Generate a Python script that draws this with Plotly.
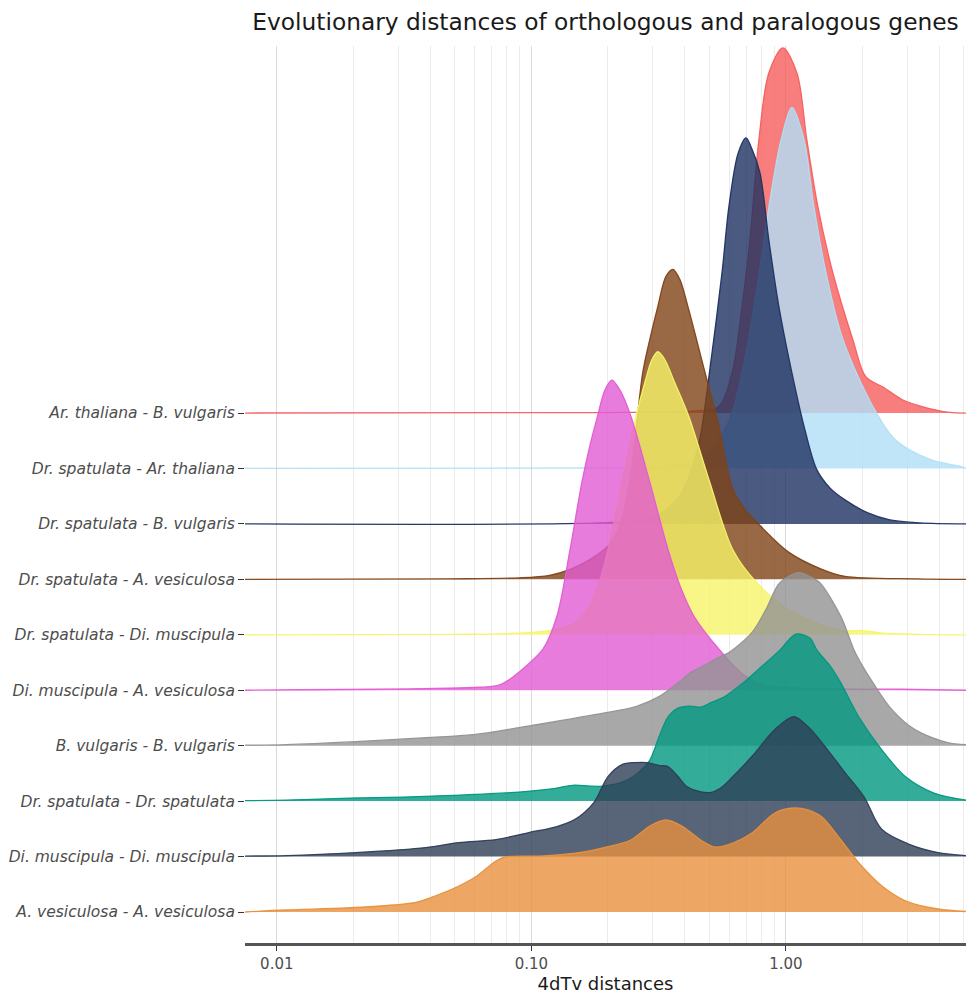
import math
import plotly.graph_objects as go

# Row labels, bottom to top
categories = [
    "A. vesiculosa - A. vesiculosa",
    "Di. muscipula - Di. muscipula",
    "Dr. spatulata - Dr. spatulata",
    "B. vulgaris - B. vulgaris",
    "Di. muscipula - A. vesiculosa",
    "Dr. spatulata - Di. muscipula",
    "Dr. spatulata - A. vesiculosa",
    "Dr. spatulata - B. vulgaris",
    "Dr. spatulata - Ar. thaliana",
    "Ar. thaliana - B. vulgaris",
]

# 4dTv distance (x) and density (arbitrary units) for each pair
ath_bvu_x = [0.0075, 0.186, 0.420, 0.541, 0.614, 0.672, 0.722, 0.783, 0.857, 0.973, 1.105, 1.209, 1.336, 1.530, 1.834, 2.063, 2.406, 2.883, 3.485, 4.292, 5.10]
ath_bvu_d = [0, 0.05, 0.2, 0.6, 4.0, 10.6, 17.3, 27.3, 34.0, 36.5, 34.0, 27.3, 20.6, 14.0, 7.3, 3.6, 2.6, 1.3, 0.6, 0.1, 0]

dsp_ath_x = [0.0075, 0.186, 0.320, 0.420, 0.503, 0.603, 0.690, 0.769, 0.857, 0.956, 1.056, 1.177, 1.288, 1.436, 1.675, 2.197, 2.682, 3.681, 4.827, 5.10]
dsp_ath_d = [0, 0.05, 0.15, 0.6, 1.8, 5.0, 11.0, 18.0, 26.1, 32.8, 36.1, 32.9, 26.2, 19.6, 12.9, 6.2, 2.9, 0.9, 0.2, 0]

dsp_bvu_x = [0.0075, 0.186, 0.267, 0.320, 0.383, 0.420, 0.459, 0.503, 0.561, 0.597, 0.648, 0.697, 0.735, 0.791, 0.857, 0.939, 1.056, 1.188, 1.324, 1.489, 1.706, 2.100, 2.563, 3.362, 5.10]
dsp_bvu_d = [0, 0.1, 0.4, 1.0, 2.8, 5.0, 8.5, 15.5, 25.1, 31.7, 37.0, 38.6, 37.5, 35.1, 28.4, 21.7, 15.1, 9.4, 5.4, 3.6, 2.4, 1.1, 0.4, 0.1, 0]

dsp_ave_x = [0.0075, 0.0478, 0.0901, 0.118, 0.142, 0.170, 0.203, 0.223, 0.244, 0.274, 0.292, 0.314, 0.338, 0.360, 0.383, 0.412, 0.481, 0.541, 0.619, 0.690, 0.769, 1.028, 1.385, 1.706, 3.213, 5.10]
dsp_ave_d = [0, 0.05, 0.15, 0.4, 1.0, 2.0, 3.5, 5.5, 10.0, 20.7, 24.0, 27.3, 30.3, 31.0, 30.0, 27.3, 20.7, 15.7, 9.0, 7.0, 5.7, 2.7, 1.0, 0.3, 0.05, 0]

dsp_dmu_x = [0.0075, 0.0478, 0.0752, 0.106, 0.129, 0.148, 0.170, 0.186, 0.200, 0.227, 0.2575, 0.279, 0.2975, 0.314, 0.3346, 0.366, 0.416, 0.503, 0.619, 0.769, 1.028, 1.449, 1.706, 1.954, 2.341, 3.362, 5.10]
dsp_dmu_d = [0, 0.05, 0.1, 0.3, 0.6, 1.2, 3.0, 5.5, 8.5, 15.2, 21.8, 25.2, 27.5, 28.3, 27.5, 25.2, 21.8, 15.2, 8.5, 5.2, 2.5, 0.8, 0.4, 0.45, 0.2, 0.05, 0]

dmu_ave_x = [0.0075, 0.0123, 0.0254, 0.0474, 0.0627, 0.0700, 0.0759, 0.0823, 0.0893, 0.111, 0.126, 0.142, 0.158, 0.170, 0.182, 0.1944, 0.207, 0.223, 0.246, 0.292, 0.344, 0.383, 0.4355, 0.546, 0.678, 0.827, 1.135, 2.805, 5.10]
dmu_ave_d = [0, 0.05, 0.1, 0.2, 0.3, 0.38, 0.6, 1.1, 1.8, 4.1, 7.4, 14.1, 20.8, 24.5, 27.4, 30.0, 31.0, 30.0, 27.4, 20.8, 14.1, 10.5, 7.4, 4.1, 1.6, 0.5, 0.2, 0.1, 0]

bvu_bvu_x = [0.0075, 0.0109, 0.0204, 0.0385, 0.0589, 0.0893, 0.137, 0.207, 0.2575, 0.317, 0.377, 0.428, 0.485, 0.551, 0.597, 0.735, 0.834, 0.947, 1.125, 1.265, 1.360, 1.645, 1.850, 2.007, 2.197, 2.610, 3.213, 4.330, 5.10]
bvu_bvu_d = [0.05, 0.1, 0.4, 0.8, 1.1, 1.8, 2.6, 3.4, 3.9, 4.9, 6.3, 7.4, 8.1, 8.9, 9.3, 11.3, 13.6, 16.3, 17.3, 16.8, 16.3, 12.9, 9.6, 7.9, 6.3, 3.6, 1.6, 0.3, 0.1]

dsp_dsp_x = [0.0075, 0.0109, 0.0194, 0.0313, 0.0524, 0.0893, 0.118, 0.148, 0.170, 0.191, 0.233, 0.267, 0.292, 0.317, 0.344, 0.377, 0.420, 0.463, 0.512, 0.571, 0.678, 0.798, 0.947, 1.095, 1.242, 1.324, 1.503, 1.645, 1.936, 2.384, 2.962, 3.816, 5.10]
dsp_dsp_d = [0.05, 0.1, 0.3, 0.4, 0.6, 0.9, 1.2, 1.6, 1.5, 1.5, 2.0, 3.0, 4.1, 6.4, 8.4, 9.3, 9.5, 9.4, 9.9, 10.4, 11.8, 13.4, 15.1, 16.7, 16.3, 15.1, 13.4, 11.8, 8.4, 5.1, 2.4, 0.8, 0.1]

dmu_dmu_x = [0.0075, 0.0109, 0.0204, 0.0385, 0.0519, 0.0726, 0.0977, 0.126, 0.148, 0.176, 0.200, 0.227, 0.255, 0.284, 0.320, 0.344, 0.377, 0.408, 0.459, 0.503, 0.551, 0.619, 0.735, 0.905, 1.075, 1.220, 1.385, 1.706, 2.025, 2.384, 3.071, 3.957, 5.10]
dmu_dmu_d = [0.05, 0.1, 0.4, 0.9, 1.4, 1.7, 2.4, 3.0, 3.7, 5.4, 8.0, 9.2, 9.4, 9.4, 9.1, 9.0, 8.0, 7.0, 6.5, 6.4, 6.8, 8.0, 10.0, 12.7, 14.0, 13.0, 11.4, 8.4, 6.0, 2.7, 1.2, 0.4, 0.1]

ave_ave_x = [0.0075, 0.0109, 0.0188, 0.0288, 0.0355, 0.0418, 0.0519, 0.0611, 0.0726, 0.0787, 0.111, 0.161, 0.191, 0.246, 0.292, 0.338, 0.390, 0.463, 0.526, 0.619, 0.735, 0.905, 1.075, 1.220, 1.385, 1.645, 1.936, 2.384, 2.962, 3.957, 5.10]
ave_ave_d = [0, 0.2, 0.4, 0.7, 1.0, 1.6, 2.6, 3.6, 5.1, 5.5, 5.6, 6.0, 6.4, 7.2, 8.6, 9.2, 8.6, 7.2, 6.5, 6.9, 7.9, 9.9, 10.4, 10.2, 9.5, 7.2, 4.9, 2.6, 1.1, 0.3, 0.05]

x_tick_vals = [0.01, 0.1, 1.0]
x_tick_text = ["0.01", "0.10", "1.00"]
x_minor_vals = [0.02, 0.03, 0.04, 0.05, 0.06, 0.07, 0.08, 0.09,
                0.2, 0.3, 0.4, 0.5, 0.6, 0.7, 0.8, 0.9, 2, 3, 4, 5]
x_limits = [0.0075, 5.10]

# drawing order: top row first, so lower rows sit in front
series = [
    ("Ar. thaliana - B. vulgaris", ath_bvu_x, ath_bvu_d, (246, 94, 94)),
    ("Dr. spatulata - Ar. thaliana", dsp_ath_x, dsp_ath_d, (176, 223, 246)),
    ("Dr. spatulata - B. vulgaris", dsp_bvu_x, dsp_bvu_d, (29, 49, 96)),
    ("Dr. spatulata - A. vesiculosa", dsp_ave_x, dsp_ave_d, (128, 66, 21)),
    ("Dr. spatulata - Di. muscipula", dsp_dmu_x, dsp_dmu_d, (246, 244, 105)),
    ("Di. muscipula - A. vesiculosa", dmu_ave_x, dmu_ave_d, (226, 91, 211)),
    ("B. vulgaris - B. vulgaris", bvu_bvu_x, bvu_bvu_d, (146, 146, 146)),
    ("Dr. spatulata - Dr. spatulata", dsp_dsp_x, dsp_dsp_d, (0, 152, 128)),
    ("Di. muscipula - Di. muscipula", dmu_dmu_x, dmu_dmu_d, (46, 61, 86)),
    ("A. vesiculosa - A. vesiculosa", ave_ave_x, ave_ave_d, (232, 144, 61)),
]

SCALE = 0.1804   # row heights per density unit
ALPHA = 0.8

fig = go.Figure()
for name, xs, ds, rgb in series:
    base = categories.index(name) + 1
    r, g, b = rgb
    fig.add_trace(go.Scatter(
        x=[x_limits[0], x_limits[1]], y=[base, base], mode="lines",
        line=dict(width=0, color="rgba(0,0,0,0)"), showlegend=False, hoverinfo="skip"))
    fig.add_trace(go.Scatter(
        x=xs, y=[base + d * SCALE for d in ds], mode="lines",
        line=dict(color=f"rgba({r},{g},{b},0.95)", width=1.3, shape="spline", smoothing=0.9),
        fill="tonexty", fillcolor=f"rgba({r},{g},{b},{ALPHA})",
        name=name, showlegend=False))

fig.update_layout(
    width=966, height=1000,
    margin=dict(l=245, r=0, t=46, b=57, pad=0),
    paper_bgcolor="white", plot_bgcolor="white",
    font=dict(family="DejaVu Sans", color="#4d4d4d"),
    title=dict(text="Evolutionary distances of orthologous and paralogous genes",
               x=0.5, xref="paper", xanchor="center",
               y=1 - 22 / 1000, yref="container", yanchor="middle",
               font=dict(family="DejaVu Sans", size=23.3, color="#1a1a1a")),
    xaxis=dict(
        type="log",
        range=[math.log10(x_limits[0]), math.log10(x_limits[1])],
        tickmode="array", tickvals=x_tick_vals, ticktext=x_tick_text,
        showgrid=True, gridcolor="#dadada", gridwidth=1,
        minor=dict(tickmode="array", tickvals=x_minor_vals, showgrid=True,
                   gridcolor="#ebebeb", gridwidth=1, ticks=""),
        ticks="outside", ticklen=5, tickcolor="#333333", tickwidth=1,
        showline=True, linecolor="#555555", linewidth=2.5,
        zeroline=False,
        tickfont=dict(size=15, color="#4d4d4d"),
        title=dict(text="4dTv distances", font=dict(size=18, color="#1a1a1a"), standoff=6),
    ),
    yaxis=dict(
        range=[0.441, 16.62],
        tickmode="array", tickvals=list(range(1, len(categories) + 1)), ticktext=categories,
        showgrid=False, zeroline=False, showline=False,
        ticks="outside", ticklen=6, tickcolor="#333333", tickwidth=1,
        tickfont=dict(size=15.5, color="#4d4d4d", style="italic"),
    ),
)

fig.write_html(
    "out.html",
    config={"displayModeBar": False},
    post_script="document.body.style.margin='0';document.body.style.overflow='hidden';",
)
